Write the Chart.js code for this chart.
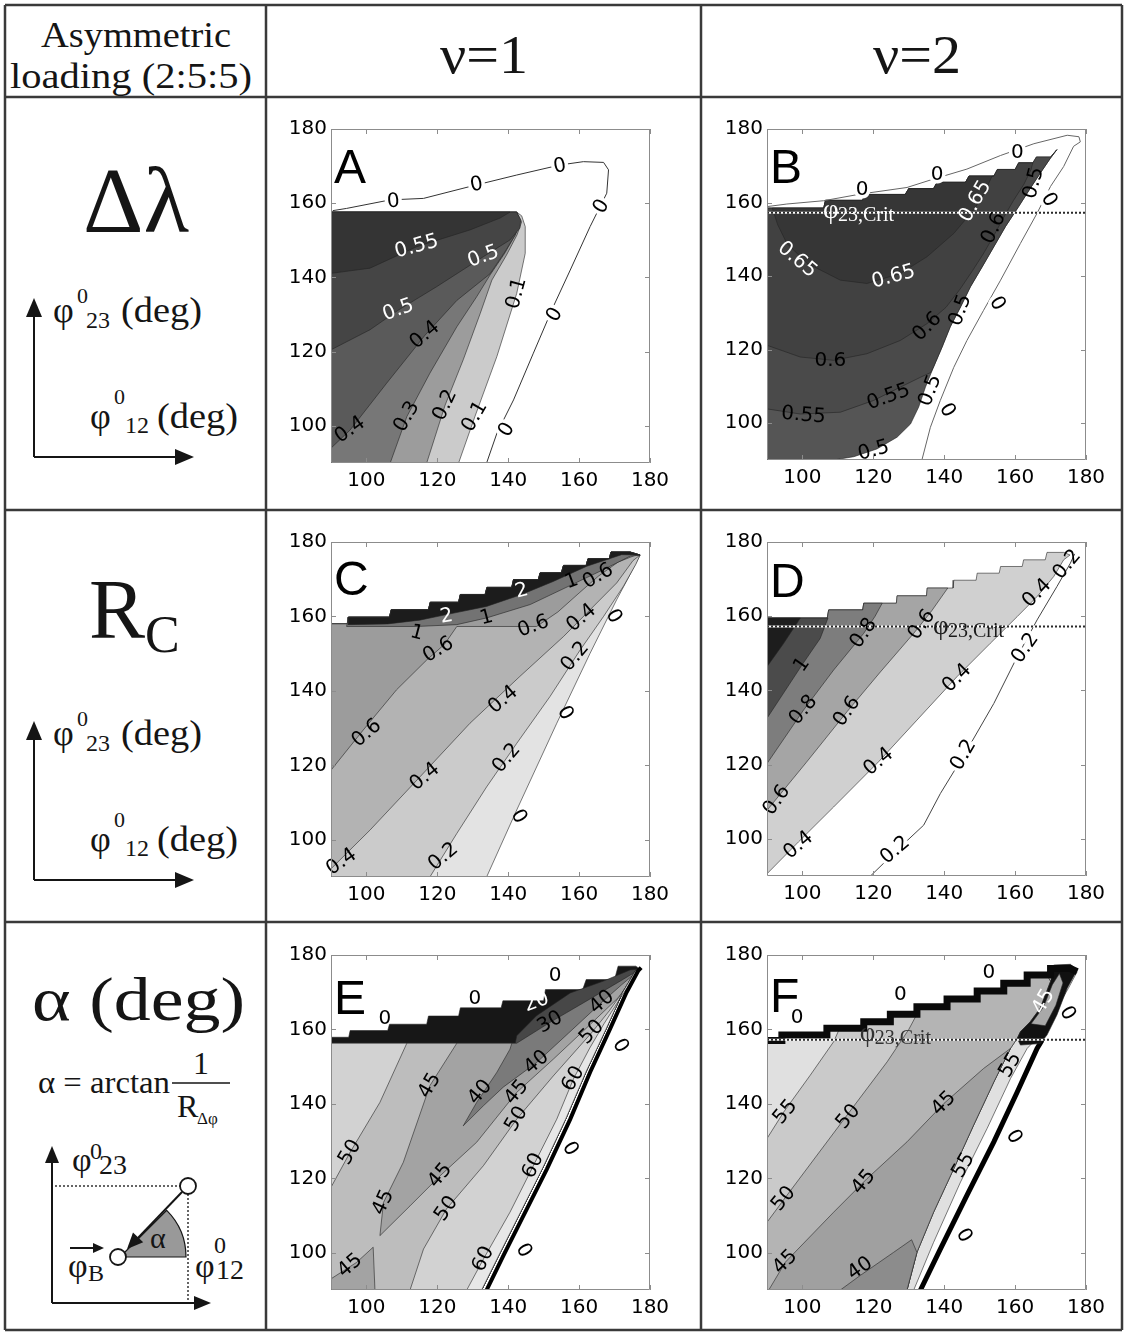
<!DOCTYPE html>
<html>
<head>
<meta charset="utf-8">
<script src="https://cdn.jsdelivr.net/npm/chart.js@4.4.1/dist/chart.umd.min.js"></script>
<style>
  body { margin: 0; background: #fff; }
  #page { position: relative; width: 1124px; height: 1332px; }
  #page canvas { position: absolute; }
  #page svg { position: absolute; left: 0; top: 0; }
</style>
</head>
<body>
<div id="page">
<svg width="1124" height="1332" font-family="'Liberation Serif', 'Times New Roman', serif" fill="#151515">
  <g stroke="#3a3a3a" stroke-width="2.5">
    <line x1="5" y1="5" x2="1122" y2="5"/>
    <line x1="5" y1="97" x2="1122" y2="97"/>
    <line x1="5" y1="510" x2="1122" y2="510"/>
    <line x1="5" y1="922" x2="1122" y2="922"/>
    <line x1="5" y1="1330" x2="1122" y2="1330"/>
    <line x1="5" y1="5" x2="5" y2="1330"/>
    <line x1="266" y1="5" x2="266" y2="1330"/>
    <line x1="701" y1="5" x2="701" y2="1330"/>
    <line x1="1122" y1="5" x2="1122" y2="1330"/>
  </g>
  <text x="136" y="47" font-size="36" text-anchor="middle" textLength="190" lengthAdjust="spacingAndGlyphs">Asymmetric</text>
  <text x="131" y="88" font-size="36" text-anchor="middle" textLength="242" lengthAdjust="spacingAndGlyphs">loading (2:5:5)</text>
  <text x="484" y="73" font-size="54" text-anchor="middle" textLength="88" lengthAdjust="spacingAndGlyphs">ν=1</text>
  <text x="917" y="73" font-size="54" text-anchor="middle" textLength="88" lengthAdjust="spacingAndGlyphs">ν=2</text>

  <!-- row 1 -->
  <text x="136" y="232" font-size="94" text-anchor="middle">Δλ</text>
  <text x="53" y="322" font-size="36">φ</text>
  <text x="77" y="303" font-size="22">0</text>
  <text x="86" y="328" font-size="24">23</text>
  <text x="121" y="322" font-size="36" textLength="81" lengthAdjust="spacingAndGlyphs">(deg)</text>
  <text x="90" y="428" font-size="36">φ</text>
  <text x="114" y="404" font-size="22">0</text>
  <text x="125" y="433" font-size="24">12</text>
  <text x="157" y="428" font-size="36" textLength="81" lengthAdjust="spacingAndGlyphs">(deg)</text>
  <g stroke="#151515" stroke-width="2">
    <line x1="34" y1="457" x2="34" y2="312"/>
    <line x1="34" y1="457" x2="178" y2="457"/>
  </g>
  <polygon points="34,298 26,317 42,317"/>
  <polygon points="194,457 175,449 175,465"/>

  <!-- row 2 -->
  <text x="89" y="638" font-size="84">R<tspan font-size="52" dy="14">C</tspan></text>
  <text x="53" y="745" font-size="36">φ</text>
  <text x="77" y="726" font-size="22">0</text>
  <text x="86" y="751" font-size="24">23</text>
  <text x="121" y="745" font-size="36" textLength="81" lengthAdjust="spacingAndGlyphs">(deg)</text>
  <text x="90" y="851" font-size="36">φ</text>
  <text x="114" y="827" font-size="22">0</text>
  <text x="125" y="856" font-size="24">12</text>
  <text x="157" y="851" font-size="36" textLength="81" lengthAdjust="spacingAndGlyphs">(deg)</text>
  <g stroke="#151515" stroke-width="2">
    <line x1="34" y1="880" x2="34" y2="735"/>
    <line x1="34" y1="880" x2="178" y2="880"/>
  </g>
  <polygon points="34,721 26,740 42,740"/>
  <polygon points="194,880 175,872 175,888"/>

  <!-- row 3 -->
  <text x="32" y="1020" font-size="62" textLength="213" lengthAdjust="spacingAndGlyphs">α (deg)</text>
  <text x="38" y="1093" font-size="32" textLength="132" lengthAdjust="spacingAndGlyphs">α = arctan</text>
  <line x1="172" y1="1083" x2="230" y2="1083" stroke="#151515" stroke-width="1.5"/>
  <text x="201" y="1074" font-size="32" text-anchor="middle">1</text>
  <text x="177" y="1117" font-size="32">R</text>
  <text x="197" y="1124" font-size="17">Δφ</text>

  <g stroke="#151515" stroke-width="2">
    <line x1="52" y1="1303" x2="52" y2="1160"/>
    <line x1="52" y1="1303" x2="196" y2="1303"/>
  </g>
  <polygon points="52,1146 45,1163 59,1163"/>
  <polygon points="211,1303 194,1296 194,1310"/>
  <text x="72" y="1171" font-size="34">φ</text>
  <text x="90" y="1159" font-size="24">0</text>
  <text x="99" y="1174" font-size="28">23</text>
  <g stroke="#333" stroke-width="1.5" stroke-dasharray="2,2">
    <line x1="55" y1="1186" x2="180" y2="1186"/>
    <line x1="188" y1="1194" x2="188" y2="1300"/>
  </g>
  <path d="M120,1257 L186,1257 A66,66 0 0,0 166.7,1210.3 Z" fill="#999" stroke="#151515" stroke-width="1.2"/>
  <line x1="182" y1="1192" x2="136" y2="1240" stroke="#151515" stroke-width="2"/>
  <polygon points="127,1249 143.2,1242.2 133,1232.6"/>
  <circle cx="188" cy="1186" r="8" fill="#fff" stroke="#151515" stroke-width="1.8"/>
  <circle cx="118" cy="1257" r="8" fill="#fff" stroke="#151515" stroke-width="1.8"/>
  <text x="150" y="1248" font-size="30">α</text>
  <text x="195" y="1277" font-size="34">φ</text>
  <text x="214" y="1253" font-size="24">0</text>
  <text x="216" y="1279" font-size="28">12</text>
  <text x="68" y="1277" font-size="34">φ</text>
  <text x="88" y="1281" font-size="24">B</text>
  <line x1="70" y1="1248" x2="96" y2="1248" stroke="#151515" stroke-width="2"/>
  <polygon points="104,1248 93,1243 93,1253"/>
</svg>
</div>

<script>
// axes shared by all six panels
const axisTicks = [100, 120, 140, 160, 180];
const axisMin = 90, axisMax = 180;
const critLevel = 157.2; // phi23,Crit

// ---- A : delta lambda, nu = 1 (regions where value > level) ----
const aGt01 = [[90,90],[126,90],[130.6,102.5],[136.8,118.7],[142.4,135.7],[144.8,146.5],[144.8,153.7],[143.8,156.6],[142.4,157.6],[90,157.6]];
const aGt02 = [[90,90],[117,90],[122.2,105.6],[127.3,117.8],[132.1,130.3],[135.4,139.3],[139.5,146],[142.5,151.5],[143.8,155],[142.4,157.6],[90,157.6]];
const aGt03 = [[90,90],[106.7,90],[111.4,102.5],[117.9,114.2],[125.5,126.7],[131.1,134.8],[134.9,140.7],[139,146.5],[142,151.5],[143.3,155],[142.4,157.6],[90,157.6]];
const aGt04 = [[90,94],[95.4,98.9],[105.7,111.5],[116.5,124.4],[125.5,133.8],[134.9,141],[139,146.8],[142,151.5],[143.3,155],[142.4,157.6],[90,157.6]];
const aGt05 = [[90,120.5],[101,125.9],[109,131.2],[119.8,137.5],[133,145.6],[140.5,150.1],[143.3,153.3],[143.5,155.5],[142.4,157.6],[90,157.6]];
const aGt055 = [[90,141.1],[101,142.5],[114.2,148.3],[129.2,152.8],[137.7,156],[140.5,157.6],[90,157.6]];
const aZero = [[90.5,158],[94.4,158.6],[106.7,160.9],[116.1,161.3],[129.2,164.5],[142.4,167.6],[154.6,170.3],[161.2,171.2],[166.9,171],[168.3,169],[167.8,162.7],[163.1,153.7],[157.5,142],[152.7,132.1],[147.1,119.6],[141.5,107],[136.8,98],[133.9,90]];
const aLabels = [
  ['0.55',114.2,148.3,15,'#fff'],['0.5',133,145.6,20,'#fff'],['0.5',109,131.2,20,'#fff'],
  ['0.4',116.5,124.5,40,'#000'],['0.4',95.4,98.9,35,'#000'],['0.3',111.4,102.5,60,'#000'],
  ['0.2',122.2,105.6,65,'#000'],['0.1',130.6,102.5,60,'#000'],['0.1',142.4,135.7,75,'#000'],
  ['0',139.6,98.9,60,'#000','#fff'],['0',153.2,129.9,60,'#000','#fff'],['0',166.4,159.1,60,'#000','#fff'],
  ['0',154.6,169.9,10,'#000','#fff'],['0',131.1,164.9,10,'#000','#fff'],['0',107.6,160.4,5,'#000','#fff']
];

// ---- B : delta lambda, nu = 2 ----
const bEdge = [[108.8,90],[114.5,90.9],[121,93],[126.7,96.2],[130.5,99.8],[132.8,104.4],[134.7,109.8],[137,115.3],[139.4,120.7],[141.7,126.2],[144.6,131.6],[147.4,137.1],[150.7,142.5],[154,148],[157.3,153.5],[161,158.9],[164.3,163.9],[167.1,168],[170,172.1],[171.8,174.4]];
const bStairs = [[90,158.5],[106,158.5],[106.5,160.6],[117,160.6],[117.5,162.2],[129,162.2],[130,163.8],[137,163.8],[138,165.5],[146,165.5],[147,167.2],[154,167.2],[155,169],[160,169],[161,170.8],[165,170.8],[166,172.4],[170,172.4],[171.8,174.4]];
const b055Line = [[90,103.9],[99.4,102.5],[110.7,103],[120.1,106.2],[127.6,109.8],[133.3,112.5],[136.2,113.8]];
const b06Line = [[90,121.2],[99.4,118],[108.8,117.1],[118.2,118.9],[127.6,122.5],[135.2,127.1],[140.5,131.5],[144.5,136.5],[148,141.5],[151,146],[154,151],[156.5,155.5],[159.5,160.5],[162.5,165],[164.5,169],[165,170.8]];
const b065Line = [[91.5,158.5],[93,154],[95.6,148.9],[101.3,143.5],[110.7,138.9],[118.2,138],[127.6,140.7],[135.2,145.3],[142.7,151.6],[148.3,158],[151,162],[153.5,167.2]];
const bZero = [[90,158.9],[95.6,159.6],[106,160.5],[116.3,162.3],[129.5,164.1],[137,166.4],[146.4,169.1],[155.9,172.8],[165.3,176],[174.7,178.3],[178,177.9],[178.4,176.5],[176.5,175.3],[173.7,169.8],[170,164.4],[166.2,157.1],[161.5,148.9],[155.9,138.9],[151.1,130.7],[146.4,122.5],[142.7,115.2],[138.9,106.2],[136.1,98.9],[133.7,90]];
const bLabels = [
  ['0',116.8,163.5,0,'#000','#fff'],['0',138,167.5,0,'#000','#fff'],['0',160.6,173.5,0,'#000','#fff'],
  ['0',169.5,160.7,-60,'#000','#fff'],['0',154.9,132.5,-60,'#000','#fff'],['0',140.8,103.5,-60,'#000','#fff'],
  ['0.65',98.5,144.4,-40,'#fff'],['0.65',125.7,139.8,15,'#fff'],['0.65',148.8,160.3,60,'#fff'],
  ['0.6',135.2,126.2,45,'#000'],['0.6',154,153,65,'#000'],['0.6',107.9,117.1,0,'#000'],
  ['0.55',100.3,102.1,-5,'#000'],['0.55',124.3,107.1,20,'#000'],
  ['0.5',165.3,165.3,75,'#000'],['0.5',144.6,130.7,70,'#000'],['0.5',136.1,108.9,70,'#000'],['0.5',120.1,92.5,15,'#000']
];

// ---- C : R_C, nu = 1 ----
const cStairs = [[94.9,159.8],[106.5,159.8],[107,161.8],[117.5,161.8],[118,163.8],[126,163.8],[126.5,165.9],[133.5,165.9],[134,167.8],[141,167.8],[141.5,169.9],[148.5,169.9],[149,171.7],[155,171.7],[155.6,173.7],[162,173.7],[162.5,175.5],[168.5,175.5],[169,177.3],[174.4,177.3],[177.2,176.5]];
const cLeftTop = [[94.9,158],[90,158]];
const c0Line = [[90,90],[133.9,90],[142.4,108],[153.7,131.3],[163.1,150.1],[170.6,164.5],[174.5,171.5]];
const c02Line = [[90,90],[117.9,90],[125.5,101.7],[133.9,114.2],[142.4,125.9],[151.8,138.5],[160.3,151],[166.9,160],[172.5,168.1],[176,174]];
const c04Line = [[90,92.2],[101,102.6],[115.1,116.9],[129.2,131.3],[143.3,143.9],[155.6,154.6],[163.1,161.8],[170.6,169],[175.2,175]];
const c06Line = [[90,118.7],[99.1,129.5],[108.5,140.3],[117,148.3],[122,152.5],[125.5,157.3],[148,157.3],[154,161.2],[160,166.3],[165.4,170.8],[171,174.6],[175.5,176.3]];
const c1Line = [[94.4,157.3],[114.2,157.3],[125.5,157.8],[133.9,159.6],[146.2,163.2],[157.9,168.5],[166.9,172.6],[174.4,176.2]];
const c2Line = [[94.9,157.8],[106,158],[115,159],[122.6,160.5],[133.9,162.7],[143.8,165.9],[152.7,169.4],[162.2,173.5],[172,176.6]];
const cLabels = [
  ['1',114.2,155.5,-15,'#000'],['2',122.6,160,10,'#fff'],['1',133.9,159.6,15,'#000'],
  ['2',143.8,166.8,15,'#fff'],['1',157.9,169.4,20,'#000'],['0.6',147.1,157.3,20,'#000'],
  ['0.6',165.4,170.8,30,'#000'],['0.4',160.7,159.6,40,'#000'],['0',169.7,160,-60,'#000'],
  ['0.2',158.9,149.2,50,'#000'],['0.4',138.6,137.6,40,'#000'],['0.6',120.3,151,30,'#000'],
  ['0.6',100.1,128.6,40,'#000'],['0.4',116.5,116.9,40,'#000'],['0.2',139.6,121.9,50,'#000'],
  ['0',156,134,-60,'#000'],['0',142.9,106.2,-60,'#000'],['0.2',121.7,95.4,40,'#000'],['0.4',93,94,35,'#000']
];

// ---- D : R_C, nu = 2 ----
const dStairs = [[90,159.5],[107,159.5],[107.4,161.7],[117,161.7],[117.3,163.5],[126.5,163.5],[126.7,165.5],[135,165.5],[135.2,167.6],[142.5,167.6],[142.7,169.7],[149,169.7],[149.3,171.6],[155.5,171.6],[155.9,173.4],[162,173.4],[162.4,175.2],[168.5,175.2],[169,177.2],[173.7,177.2],[175.5,176.5]];
const d04Line = [[90,90.6],[98.9,99.2],[108.8,108.6],[121.5,120.8],[132.3,132],[143.6,143.7],[153,152.7],[160.6,159.9],[166.2,165.3],[170.9,170.7],[173.7,175.2]];
const dGt06 = [[90,107.7],[101,120.5],[112.6,134.3],[122,145],[131.4,155.4],[136.5,161.5],[141,167.6],[135.2,167.6],[135,165.5],[126.7,165.5],[126.5,163.5],[117.3,163.5],[117,161.7],[107.4,161.7],[107,159.5],[90,159.5]];
const dGt08 = [[90,120.3],[100.3,134.7],[108.8,145.5],[117.3,155.4],[120.5,160],[122.5,163.5],[117.3,163.5],[117,161.7],[107.4,161.7],[107,159.5],[90,159.5]];
const dGt1 = [[90,132.5],[99.9,146.9],[105,154],[107.2,159.5],[90,159.5]];
const dGt12 = [[90,146.4],[94.7,152.7],[99.4,159.5],[90,159.5]];
const d02Line = [[119.2,90],[127.6,97.8],[134.2,103.7],[138.9,112.2],[146.4,123.9],[154,136.5],[160.6,149.1],[166.2,159],[171.8,168],[175.6,174.3],[176.8,176.8]];
const dLabels = [
  ['1',99.9,146.9,55,'#000'],['0.8',100.3,134.7,50,'#000'],['0.8',117.3,155.4,55,'#000'],
  ['0.6',92.8,110.4,55,'#000'],['0.6',112.6,134.3,55,'#000'],['0.6',133.7,157.7,55,'#000'],
  ['0.4',98.9,98.3,40,'#000'],['0.4',121.5,120.8,40,'#000'],['0.4',143.6,143.3,45,'#000'],['0.4',166.2,166.2,45,'#000'],
  ['0.2',126.2,96.9,40,'#000','#fff'],['0.2',145.5,122.6,60,'#000','#fff'],['0.2',162.9,151.4,55,'#000','#fff'],['0.2',174.7,173.9,50,'#000']
];

// ---- E : alpha, nu = 1 ----
const eStairs = [[90,157.9],[95,157.9],[95.4,159.7],[106,159.7],[106.5,161.4],[117,161.4],[117.5,163.6],[126,163.6],[126.5,165.8],[138,165.8],[138.5,167.7],[150,167.7],[150.5,170.7],[161,170.7],[162,173.4],[170,173.4],[171,177],[176,177],[177.2,176.2]];
const eEdge = [[132.5,90],[137.3,99.2],[143,110],[149.6,122.5],[156.2,135.9],[161.9,148.5],[167.6,160.1],[172.3,170],[175.8,175.6],[177.2,176.2]];
const eThick = [[133.9,90],[138.6,99.2],[144.3,110],[150.9,122.5],[157.5,135.9],[163.1,148.5],[168.7,160.1],[173.4,170],[176.7,175.8],[177.5,176.6]];
const e20Line = [[90,90],[90,156.3],[142,156.3],[142.4,158.3],[148,163.7],[157.5,169.8],[166.9,173],[174.4,176],[177.2,176.2]];
const e30Line = [[90,90],[90,156.3],[142.4,156.3],[151.8,161.9],[163.1,168.2],[172.5,173.5],[177.2,176.2]];
const e40Line = [[90,90],[90,156.3],[141,156.3],[140.5,154.7],[136.8,148.5],[131.1,140.4],[127.3,134.1],[133,139.5],[138.6,144.5],[148,151.1],[157,159],[166.4,167.3],[172,172],[177.2,176.2]];
const e45Left = [[90,156.3],[90,93],[97.2,97.4],[101.9,101.5],[102.4,90]];
const e45Band = [[171,168.5],[162.2,160.5],[152.7,152],[142.4,143.1],[131.1,129.7],[120.8,120.7],[112.3,112.6],[103.8,104.6],[104.8,113.5],[110.4,124.3],[117.9,144.9],[125.5,156.3]];
const eGt50L = [[90,117.6],[95.4,127],[103.8,140.4],[111.4,156.3],[90,156.3]];
const e50Line = [[112.3,90],[116.1,101],[122.6,111.8],[133,123.4],[142.4,135.9],[152.7,147.5],[163.6,159.2],[168.5,165],[173,171],[177.2,176.2]];
const e60Line = [[128.3,90],[133,98.3],[140.5,110.9],[147.1,123.4],[153.7,135.9],[158.4,146.7],[163,155],[167,161.5],[171,167.5],[174.5,172.5],[177.2,176.2]];
const eLabels = [
  ['0',105.2,162.8,0,'#000'],['0',130.6,168.2,0,'#000'],['0',153.2,174.4,0,'#000'],
  ['20',148,167.3,20,'#fff'],['30',151.8,161.9,30,'#000'],['40',166.4,167.3,40,'#000'],
  ['50',163.6,159.2,45,'#000'],['0',171.6,155.6,-60,'#000'],['40',148,151.1,40,'#000'],
  ['40',132.1,143.1,50,'#000'],['45',117.9,144.9,60,'#000'],['45',142.4,143.1,50,'#000'],
  ['50',142.4,135.9,60,'#000'],['60',158.4,146.7,60,'#000'],['50',95.4,127,60,'#000'],
  ['45',120.8,120.7,50,'#000'],['45',104.8,113.5,65,'#000'],['50',122.6,111.8,55,'#000'],
  ['60',147.1,123.4,65,'#000'],['0',157.4,127.9,-60,'#000'],['45',95.4,96.5,40,'#000'],
  ['60',133,98.3,65,'#000'],['0',144.3,100.6,-60,'#000']
];

// ---- F : alpha, nu = 2 ----
const fStairs = [[90,157],[94.2,157],[94.2,158.5],[106.9,158.5],[106.9,160.3],[117.3,160.3],[117.3,162.1],[124.8,162.1],[124.8,164.1],[132.3,164.1],[132.3,166.1],[140.8,166.1],[140.8,168.2],[149.3,168.2],[149.3,170.3],[156.8,170.3],[156.8,172.4],[163.4,172.4],[163.4,174.6],[170,174.6],[170,176.4],[175.6,176.4],[177.5,175.5]];
const fOuter = [[90,90],[131.4,90],[137,102.8],[144.6,119],[152.1,133.4],[158.7,146.8],[163.4,154.9],[166,157.5],[169,161],[172,166],[175,171],[177.5,175.5]];
const fWavy = [[169,174.6],[170,172.9],[167.1,165.7],[164.3,162.1],[161.5,159.4],[160.6,157.6],[158.7,154.9],[154,145.9],[148.3,134.3],[142.7,122.6],[137,110.9],[132.3,100.1],[129.5,90]];
const f55Line = [[90,90],[90,130.7],[94.7,137.8],[102.2,147.7],[108.8,156.7],[110.5,160.3],[117.3,160.3],[117.3,162.1],[124.8,162.1],[124.8,164.1],[132.3,164.1]];
const f50Line = [[90,90],[90,108.2],[95.6,115.4],[112.6,137],[123.9,151.3],[130,160],[132.3,164.1]];
const fTopRun = [[132.3,166.1],[140.8,166.1],[140.8,168.2],[149.3,168.2],[149.3,170.3],[156.8,170.3],[156.8,172.4],[163.4,172.4],[163.4,174.6]];
const fLt45 = [[90.5,90],[95.2,97.5],[108.8,110.9],[118.2,119.9],[129.5,129.8],[139.9,140.1],[151.1,149.5],[158.7,154.9],[154,145.9],[148.3,134.3],[142.7,122.6],[137,110.9],[132.3,100.1],[129.5,90]];
const fLt40 = [[110.7,90],[116.3,93.9],[125.7,100.1],[130.8,103.5],[132.3,100.1],[129.5,90]];
const fThick = [[133.3,90],[138.9,101],[146.4,115.4],[154,129.8],[160.6,143.2],[166.2,154.9],[167.6,157.1]];
const fBlob = [[160.6,157.6],[161.5,159.4],[164.3,162.1],[167.1,165.7],[170,172.9],[170.9,177.3],[175.6,177.5],[177.5,176],[174.7,171.1],[171.8,163.9],[169,158.5],[167.1,156.2],[161.5,155.8]];
const fBlobCore = [[164.5,161.5],[168,166],[170.5,172],[172.5,175],[173.5,172.5],[171.5,166.5],[168.5,161]];
const fLabels = [
  ['0',98.5,163,0,'#000'],['0',127.6,169.3,0,'#000'],['0',152.6,175.1,0,'#000'],
  ['0',174.7,164.3,-60,'#000'],['0',159.6,131.1,-60,'#000'],['0',145.5,104.6,-60,'#000'],
  ['45',168.1,167.5,60,'#fff'],['55',95.2,137.8,50,'#000'],['50',113,136.5,50,'#000'],
  ['45',139.9,140.1,45,'#000'],['50',94.7,114.5,50,'#000'],['45',117.3,119,50,'#000'],
  ['45',95.2,97.5,45,'#000'],['40',116.3,95.7,35,'#000'],['55',145.5,123.5,60,'#000'],['55',158.7,150.4,60,'#000']
];

const rev = a => a.slice().reverse();
const pts = a => a.map(([x, y]) => ({x, y}));
const poly = (a, color) => ({
  data: pts(a.concat([a[0]])), fill: 'shape', backgroundColor: color,
  borderColor: 'rgba(35,35,35,0.85)', borderWidth: 0.7
});
const line = (a, color, width, dash) => ({
  data: pts(a), fill: false, borderColor: color, borderWidth: width, borderDash: dash || []
});
const critLine = () => [
  line([[axisMin, critLevel], [axisMax, critLevel]], '#ffffff', 2),
  line([[axisMin, critLevel], [axisMax, critLevel]], '#2a2a2a', 2, [2, 2])
];

const panels = [
  { letter: 'A', box: [331, 129, 650, 463], letterDy: 54, labels: aLabels, sets: [
    poly(aGt01, '#cbcbcb'), poly(aGt02, '#9c9c9c'), poly(aGt03, '#777777'),
    poly(aGt04, '#5a5a5a'), poly(aGt05, '#454545'), poly(aGt055, '#343434'),
    line(aZero, '#333', 1)
  ]},
  { letter: 'B', box: [767, 129, 1086, 460], letterDy: 54, labels: bLabels,
    crit: { x: 105.8, dy: 5, color: '#ffffff' }, sets: [
    poly([[90, 90]].concat(bEdge, rev(bStairs)), '#555555'),
    poly(b055Line.concat(bEdge.slice(7), rev(bStairs)), '#4a4a4a'),
    poly(b06Line.concat(rev(bStairs.slice(0, 16))), '#414141'),
    poly(b065Line.concat(rev(bStairs.slice(1, 12))), '#363636'),
    line(bZero, '#666', 1)
  ].concat(critLine()) },
  { letter: 'C', box: [331, 542, 650, 877], letterDy: 53, labels: cLabels, sets: [
    poly(c0Line.concat(rev(cStairs), cLeftTop), '#e3e3e3'),
    poly(c02Line.concat(rev(cStairs), cLeftTop), '#cbcbcb'),
    poly(c04Line.concat(rev(cStairs), cLeftTop), '#b3b3b3'),
    poly(c06Line.concat(rev(cStairs), cLeftTop), '#9c9c9c'),
    poly(c1Line.concat(rev(cStairs)), '#737373'),
    poly(c2Line.concat(rev(cStairs)), '#1c1c1c')
  ]},
  { letter: 'D', box: [767, 542, 1086, 876], letterDy: 55, labels: dLabels,
    crit: { x: 136.8, dy: 7, color: '#1a1a1a' }, sets: [
    poly(d04Line.concat(rev(dStairs)), '#d0d0d0'),
    poly(dGt06, '#a5a5a5'), poly(dGt08, '#7d7d7d'), poly(dGt1, '#4b4b4b'), poly(dGt12, '#1d1d1d'),
    line(d02Line, '#444', 1)
  ].concat(critLine()) },
  { letter: 'E', box: [331, 955, 650, 1290], letterDy: 59, labels: eLabels, sets: [
    poly([[90, 90]].concat(eEdge, rev(eStairs)), '#171717'),
    poly(e20Line.concat(rev(eEdge)), '#474747'),
    poly(e30Line.concat(rev(eEdge)), '#7a7a7a'),
    poly(e40Line.concat(rev(eEdge)), '#a3a3a3'),
    poly(e45Left.concat(eEdge, e45Band), '#bdbdbd'),
    poly(eGt50L, '#d2d2d2'),
    poly(e50Line.concat(rev(eEdge)), '#d2d2d2'),
    poly(e60Line.concat(rev(eEdge)), '#e7e7e7'),
    line(eThick, '#000', 4)
  ]},
  { letter: 'F', box: [767, 955, 1086, 1290], letterDy: 57, labels: fLabels,
    crit: { x: 116.2, dy: 1, color: '#333333' }, sets: [
    poly(fOuter.concat(rev(fStairs)), '#e0e0e0'),
    poly(f55Line.concat(fTopRun, fWavy), '#cacaca'),
    poly(f50Line.concat(fTopRun, fWavy), '#b4b4b4'),
    poly(fLt45, '#a0a0a0'), poly(fLt40, '#8c8c8c'),
    line(fThick, '#000', 5),
    poly(fBlob, '#111111'), poly(fBlobCore, '#a9a9a9'),
    line(fStairs, '#0a0a0a', 7)
  ].concat(critLine()) }
];

const decor = p => ({
  id: 'decor' + p.letter,
  afterDatasetsDraw(chart) {
    const {ctx, chartArea: a, scales: {x, y}} = chart;
    ctx.save();
    ctx.textAlign = 'center';
    ctx.textBaseline = 'middle';
    ctx.font = '20px "DejaVu Sans"';
    ctx.lineJoin = 'round';
    p.labels.forEach(([t, vx, vy, ang, col, halo]) => {
      ctx.save();
      ctx.translate(x.getPixelForValue(vx), y.getPixelForValue(vy));
      ctx.rotate(-ang * Math.PI / 180);
      if (halo) {
        // break the contour line under the label, as clabel does
        ctx.strokeStyle = halo;
        ctx.lineWidth = 7;
        ctx.strokeText(t, 0, 0);
      }
      ctx.fillStyle = col;
      ctx.fillText(t, 0, 0);
      ctx.restore();
    });
    ctx.textAlign = 'left';
    ctx.textBaseline = 'alphabetic';
    if (p.crit) {
      const yy = y.getPixelForValue(critLevel), xx = x.getPixelForValue(p.crit.x);
      ctx.fillStyle = p.crit.color;
      ctx.font = '27px "Liberation Serif"';
      ctx.fillText('φ', xx, yy + p.crit.dy);
      ctx.font = '20px "Liberation Serif"';
      ctx.fillText('23,Crit', xx + 15, yy + p.crit.dy + 3);
    }
    // frame with inward ticks on all sides
    ctx.strokeStyle = '#8c8c8c';
    ctx.lineWidth = 1;
    ctx.strokeRect(a.left + 0.5, a.top + 0.5, a.right - a.left - 1, a.bottom - a.top - 1);
    ctx.beginPath();
    axisTicks.forEach(v => {
      const px = Math.round(x.getPixelForValue(v)) + 0.5;
      const py = Math.round(y.getPixelForValue(v)) + 0.5;
      ctx.moveTo(px, a.bottom); ctx.lineTo(px, a.bottom - 5);
      ctx.moveTo(px, a.top); ctx.lineTo(px, a.top + 5);
      ctx.moveTo(a.left, py); ctx.lineTo(a.left + 5, py);
      ctx.moveTo(a.right, py); ctx.lineTo(a.right - 5, py);
    });
    ctx.stroke();
    ctx.fillStyle = '#000';
    ctx.font = '48px "Liberation Sans"';
    ctx.fillText(p.letter, a.left + 3, a.top + p.letterDy);
    ctx.restore();
  }
});

Chart.defaults.font.family = 'DejaVu Sans';
const page = document.getElementById('page');
const padL = 52, padT = 16, padR = 34, padB = 44;
const tickFont = { family: 'DejaVu Sans', size: 20 };

panels.forEach(p => {
  const [l, t, r, b] = p.box;
  const cv = document.createElement('canvas');
  cv.width = (r - l) + padL + padR;
  cv.height = (b - t) + padT + padB;
  cv.style.left = (l - padL) + 'px';
  cv.style.top = (t - padT) + 'px';
  page.appendChild(cv);
  p.sets.forEach((d, i) => { d.order = -i; d.pointRadius = 0; d.tension = 0; });
  new Chart(cv, {
    type: 'line',
    data: { datasets: p.sets },
    options: {
      responsive: false, animation: false, devicePixelRatio: 1,
      layout: { padding: { left: 0, top: padT, right: padR, bottom: 0 } },
      plugins: { legend: { display: false }, tooltip: { enabled: false } },
      scales: {
        x: {
          type: 'linear', min: axisMin, max: axisMax,
          grid: { display: false, drawTicks: false }, border: { display: false },
          afterBuildTicks: s => { s.ticks = axisTicks.map(v => ({ value: v })); },
          afterFit: s => { s.height = padB; },
          ticks: { font: tickFont, color: '#000', padding: 6, maxRotation: 0, autoSkip: false }
        },
        y: {
          type: 'linear', min: axisMin, max: axisMax,
          grid: { display: false, drawTicks: false }, border: { display: false },
          afterBuildTicks: s => { s.ticks = axisTicks.map(v => ({ value: v })); },
          afterFit: s => { s.width = padL; },
          ticks: { font: tickFont, color: '#000', padding: 4, autoSkip: false }
        }
      }
    },
    plugins: [decor(p)]
  });
});
</script>
</body>
</html>
